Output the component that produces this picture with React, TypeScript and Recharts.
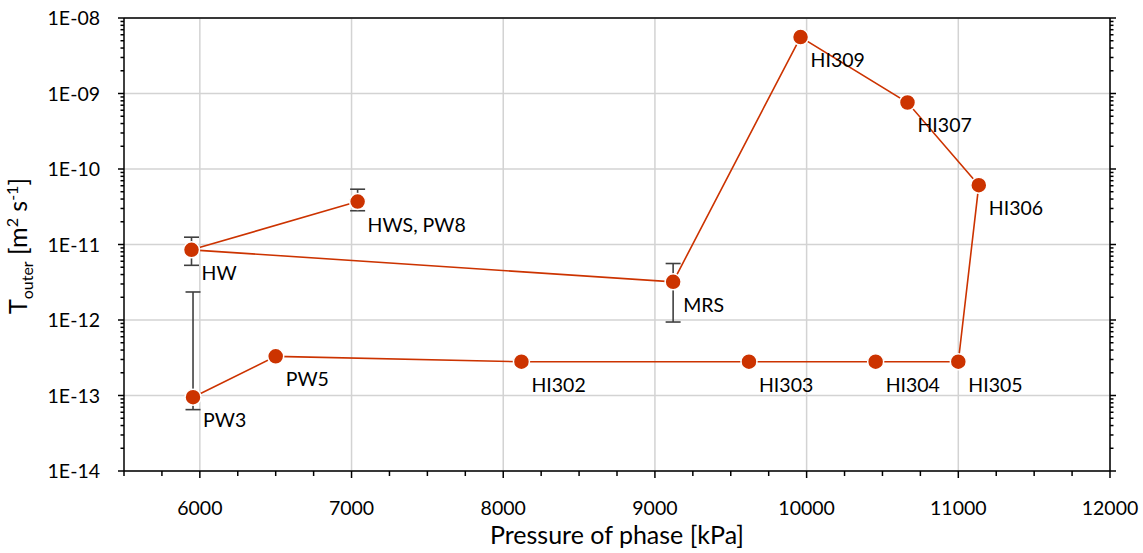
import { ScatterChart, Scatter, XAxis, YAxis, ErrorBar, CartesianGrid } from 'recharts'

// samples, in the order the line joins them
const sampleNames = ['HWS, PW8', 'HW', 'MRS', 'HI309', 'HI307', 'HI306', 'HI305', 'HI304', 'HI303', 'HI302', 'PW5', 'PW3']
const pressureKPa = [7040, 5945, 9120, 9960, 10665, 11135, 11000, 10455, 9620, 8120, 6500, 5955]
const tOuter = [3.7e-11, 8.5e-12, 3.2e-12, 5.6e-9, 7.6e-10, 6.1e-11, 2.8e-13, 2.8e-13, 2.8e-13, 2.8e-13, 3.3e-13, 9.5e-14]
// error bar ends (null = no bar)
const errLower = [2.8e-11, 5.3e-12, 9.4e-13, null, null, null, null, null, null, null, null, 6.5e-14]
const errUpper = [5.4e-11, 1.25e-11, 5.6e-12, null, null, null, null, null, null, null, null, 2.35e-12]

const xMajorTicks = [6000, 7000, 8000, 9000, 10000, 11000, 12000]
const yMajorTicks = [1e-14, 1e-13, 1e-12, 1e-11, 1e-10, 1e-9, 1e-8]
const yTickLabels = ['1E-14', '1E-13', '1E-12', '1E-11', '1E-10', '1E-09', '1E-08']

const X_DOMAIN: [number, number] = [5500, 12000]
const Y_DOMAIN: [number, number] = [1e-14, 1e-8]
const RED = '#cc3300'
const FONT = 'Lato, "Open Sans", sans-serif'

const data = sampleNames.map((name, i) => ({
  name,
  x: pressureKPa[i],
  y: tOuter[i],
  err: errLower[i] == null ? undefined : [tOuter[i] - (errLower[i] as number), (errUpper[i] as number) - tOuter[i]],
}))

// minor ticks every 250 kPa, and 2..9 within each decade
const xAllTicks: number[] = []
for (let v = X_DOMAIN[0]; v <= X_DOMAIN[1]; v += 250) xAllTicks.push(v)
const yAllTicks: number[] = []
yMajorTicks.forEach((t, i) => {
  yAllTicks.push(t)
  if (i < yMajorTicks.length - 1) for (let m = 2; m <= 9; m++) yAllTicks.push(m * t)
})

const isMajorY = (v: number) => yMajorTicks.some(t => Math.abs(t - v) / t < 1e-6)

function XTick({ x, y, payload, side }: any) {
  const v = payload.value
  const major = xMajorTicks.includes(v)
  const len = major ? 7 : 5
  const dir = side === 'top' ? -1 : 1
  return (
    <g>
      <line x1={x} x2={x} y1={y} y2={y + dir * len} stroke="#000" strokeWidth={1.5} />
      {side === 'bottom' && major && (
        <text x={x} y={y + 44} textAnchor="middle" fontSize={19.5} fontFamily={FONT} fill="#000">{v}</text>
      )}
    </g>
  )
}

function YTick({ x, y, payload, side }: any) {
  const v = payload.value
  const major = isMajorY(v)
  const len = major ? 6 : 3.5
  const dir = side === 'right' ? 1 : -1
  const idx = yMajorTicks.findIndex(t => Math.abs(t - v) / t < 1e-6)
  return (
    <g>
      <line x1={x} x2={x + dir * len} y1={y} y2={y} stroke="#000" strokeWidth={1.5} />
      {side === 'left' && major && (
        <text x={x - 24} y={y + 7} textAnchor="end" fontSize={19.5} fontFamily={FONT} fill="#000">{yTickLabels[idx]}</text>
      )}
    </g>
  )
}

function Marker(props: any) {
  const { cx, cy, payload } = props
  if (cx == null || cy == null) return null
  return (
    <g>
      <circle cx={cx} cy={cy} r={8} fill={RED} stroke="#fff" strokeWidth={1.5} />
      <text x={cx + 10} y={cy + 30} fontSize={19.5} fontFamily={FONT} fill="#000">{payload.name}</text>
    </g>
  )
}

export default function App() {
  return (
    <div style={{ position: 'absolute', left: 0, top: 0 }}>
      <ScatterChart width={1143} height={553} margin={{ top: 8, right: 23, bottom: 12, left: 24 }}>
        <CartesianGrid
          xAxisId="bottom"
          yAxisId="left"
          stroke="#d3d3d3"
          strokeWidth={1.5}
          verticalValues={xMajorTicks}
          horizontalValues={yMajorTicks}
        />
        <XAxis
          xAxisId="bottom"
          dataKey="x"
          type="number"
          domain={X_DOMAIN}
          allowDataOverflow
          ticks={xAllTicks}
          interval={0}
          tickSize={0}
          tickMargin={0}
          tickLine={false}
          axisLine={{ stroke: '#000', strokeWidth: 1.5 }}
          tick={<XTick side="bottom" />}
          height={70}
          label={{
            content: () => (
              <text x={617} y={544} textAnchor="middle" fontSize={25} fontFamily={FONT} fill="#000">
                Pressure of phase [kPa]
              </text>
            ),
          }}
        />
        <XAxis
          xAxisId="top"
          orientation="top"
          type="number"
          domain={X_DOMAIN}
          allowDataOverflow
          ticks={xAllTicks}
          interval={0}
          tickSize={0}
          tickMargin={0}
          tickLine={false}
          axisLine={{ stroke: '#000', strokeWidth: 1.5 }}
          tick={<XTick side="top" />}
          height={10}
        />
        <YAxis
          yAxisId="left"
          dataKey="y"
          type="number"
          scale="log"
          domain={Y_DOMAIN}
          allowDataOverflow
          ticks={yAllTicks}
          interval={0}
          tickSize={0}
          tickMargin={0}
          tickLine={false}
          axisLine={{ stroke: '#000', strokeWidth: 1.5 }}
          tick={<YTick side="left" />}
          width={100}
          label={{
            content: () => (
              <text
                x={0}
                y={0}
                transform="translate(27, 246) rotate(-90)"
                textAnchor="middle"
                fontSize={25}
                fontFamily={FONT}
                fill="#000"
              >
                T
                <tspan fontSize={16} dy={6}>outer</tspan>
                <tspan dy={-6}> [m</tspan>
                <tspan fontSize={16} dy={-9}>2</tspan>
                <tspan dy={9}> s</tspan>
                <tspan fontSize={16} dy={-9}>-1</tspan>
                <tspan dy={9}>]</tspan>
              </text>
            ),
          }}
        />
        <YAxis
          yAxisId="right"
          orientation="right"
          type="number"
          scale="log"
          domain={Y_DOMAIN}
          allowDataOverflow
          ticks={yAllTicks}
          interval={0}
          tickSize={0}
          tickMargin={0}
          tickLine={false}
          axisLine={{ stroke: '#000', strokeWidth: 1.5 }}
          tick={<YTick side="right" />}
          width={10}
        />
        <Scatter
          data={data}
          xAxisId="bottom"
          yAxisId="left"
          line={{ stroke: RED, strokeWidth: 1.6 }}
          shape={<Marker />}
          isAnimationActive={false}
        >
          <ErrorBar dataKey="err" direction="y" width={7.5} stroke="#404040" strokeWidth={1.6} isAnimationActive={false} />
        </Scatter>
      </ScatterChart>
    </div>
  )
}
